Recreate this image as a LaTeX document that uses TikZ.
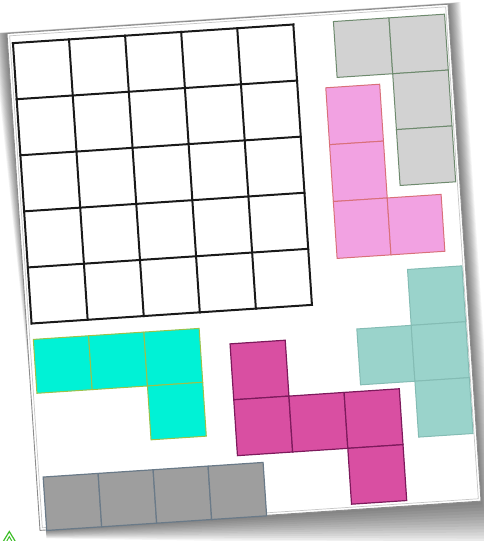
\documentclass[tikz,border=0pt]{standalone}
\definecolor{lgrayfill}{HTML}{D2D2D2}
\definecolor{lgraydraw}{HTML}{6E8A6E}
\definecolor{pinkfill}{HTML}{F2A2E2}
\definecolor{pinkdraw}{HTML}{D9707A}
\definecolor{tealfill}{HTML}{9AD3CB}
\definecolor{tealdraw}{HTML}{84BCB4}
\definecolor{cyanfill}{HTML}{00F2D6}
\definecolor{cyandraw}{HTML}{9CC24A}
\definecolor{magfill}{HTML}{D94FA2}
\definecolor{magdraw}{HTML}{7D1A5C}
\definecolor{dgrayfill}{HTML}{9E9E9E}
\definecolor{dgraydraw}{HTML}{6A7A88}
\definecolor{icongreen}{HTML}{3FBF2A}
\newcommand\tilepiece[6]{%
  \foreach \a/\b in {#6} {\filldraw[#5] ({#1+\a*#3},{#2+\b*#4}) rectangle ++(#3,#4);}}
\tikzset{
  gridline/.style={line width=2pt, draw=black!90, line cap=rect},
  lgraycell/.style={fill=lgrayfill, draw=lgraydraw, line width=1pt},
  pinkcell/.style={fill=pinkfill, draw=pinkdraw, line width=1pt},
  tealcell/.style={fill=tealfill, draw=tealdraw, line width=1pt},
  cyancell/.style={fill=cyanfill, draw=cyandraw, line width=1pt},
  magcell/.style={fill=magfill, draw=magdraw, line width=1.2pt},
  dgraycell/.style={fill=dgrayfill, draw=dgraydraw, line width=1.2pt},
  papershadow/.style={fill=black, opacity=0.045},
}
\begin{document}
\begin{tikzpicture}[x=1pt,y=-1pt]
\useasboundingbox (0,0) rectangle (484,541);
\fill[white] (0,0) rectangle (484,541);
\begin{scope}[shift={(7,33.5)},rotate=3.8]
  % soft shadow
  \foreach \i in {1,...,14} {
    \fill[papershadow] ({-\i*1.0},{-\i*0.1}) -- ({442+\i*0.9},{-\i*0.1})
      -- ({442+\i*1.0},{498+\i*3.2}) -- ({6},{498+\i*0.6}) -- cycle;
  }
  % paper
  \filldraw[fill=white, draw=black!45, line width=0.9pt] (0,0) rectangle (442,498);
  \draw[black!22, line width=0.7pt] (2.5,2.5) rectangle (439.5,495.5);
  % 5x5 grid
  \foreach \k in {0,...,5} {
    \draw[gridline] ({5.3+\k*56.2},10) -- ({5.3+\k*56.2},291);
    \draw[gridline] (5.3,{10+\k*56.2}) -- (286.3,{10+\k*56.2});
  }
  % pieces
  \tilepiece{326.5}{9.7}{55.7}{56}{lgraycell}{0/0,1/0,1/1,1/2}
  \tilepiece{314.5}{75.3}{54}{57}{pinkcell}{0/0,0/1,0/2,1/2}
  \tilepiece{329.5}{262}{54.5}{56}{tealcell}{1/0,0/1,1/1,1/2}
  \tilepiece{6}{307}{55.4}{54}{cyancell}{0/0,1/0,2/0,2/1}
  \tilepiece{202}{324.5}{55.3}{56}{magcell}{0/0,0/1,1/1,2/1,2/2}
  \tilepiece{6.7}{445}{55.1}{53.5}{dgraycell}{0/0,1/0,2/0,3/0}
\end{scope}
% small green icon
\draw[icongreen, line width=1.2pt, line join=miter] (3.5,541) -- (9.3,531.5) -- (15.1,541);
\draw[icongreen, line width=1pt] (6.8,541) -- (9.3,536.6) -- (11.8,541);
\end{tikzpicture}
\end{document}
